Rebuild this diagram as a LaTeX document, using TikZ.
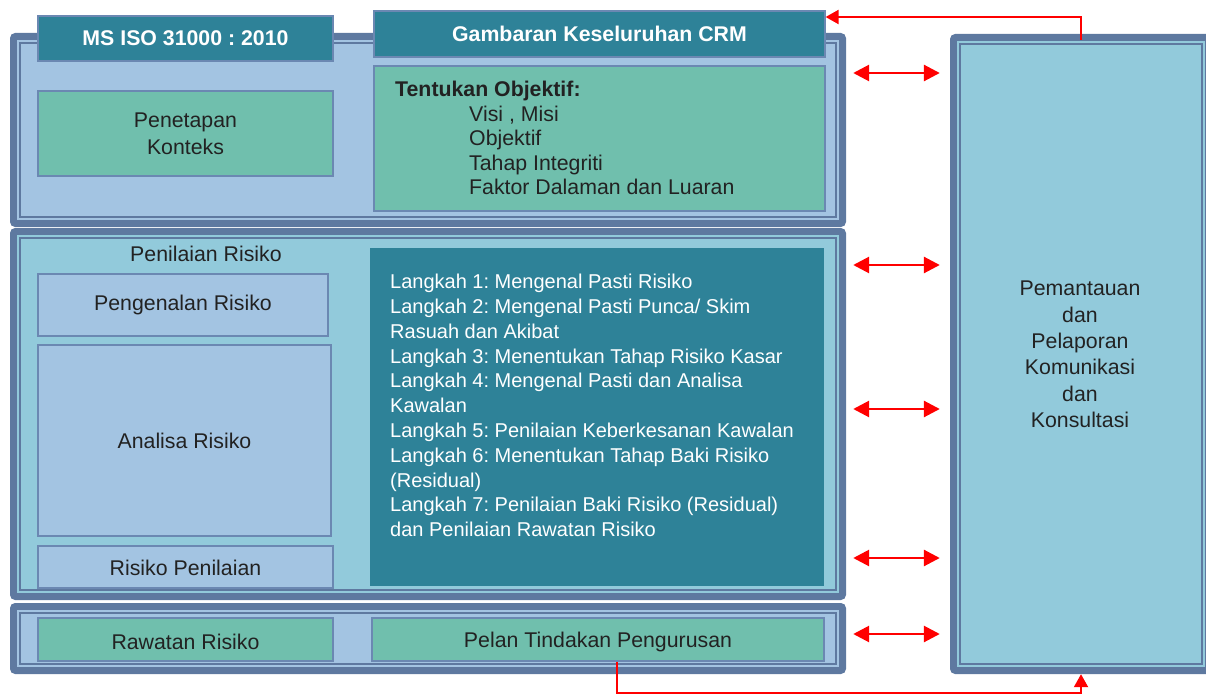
\documentclass[tikz,border=0pt]{standalone}
\usepackage{fontspec}
\setmainfont{Liberation Sans}
\usetikzlibrary{arrows.meta}
\definecolor{framec}{HTML}{5E79A0}
\definecolor{lblue}{HTML}{A3C4E2}
\definecolor{cyanp}{HTML}{92CADB}
\definecolor{greenb}{HTML}{70BFAD}
\definecolor{tealb}{HTML}{2E8298}
\definecolor{boxline}{HTML}{6B88B2}
\definecolor{txt}{HTML}{222222}
\newcommand\pframe[2]{%
  \fill[#2] ([shift={(7,7)}]#1.north west) rectangle ([shift={(-7,-7)}]#1.south east);
  \draw[framec, line width=1.6pt] ([shift={(10,10)}]#1.north west) rectangle ([shift={(-10,-10)}]#1.south east);
}
\frenchspacing
\begin{document}
\begin{tikzpicture}[x=1pt,y=-1pt,
  outerframe/.style={fill=framec, rounded corners=5pt, inner sep=0pt},
  box/.style={draw=boxline, line width=1.2pt, inner sep=0pt, text=txt, align=center,
    font=\fontsize{21.3}{27}\selectfont},
  greenbox/.style={box, fill=greenb},
  bluebox/.style={box, fill=lblue},
  titlebox/.style={box, fill=tealb, text=white, font=\fontsize{21.3}{25}\selectfont\bfseries},
  dbl/.style={red, line width=2.8pt, {Triangle[length=16pt,width=16pt]}-{Triangle[length=16pt,width=16pt]}},
  redline/.style={red, line width=2pt, -{Triangle[length=13pt,width=14pt]}}
]
\useasboundingbox (0,0) rectangle (1206,695);

% outer frames
\node[outerframe, minimum width=836pt, minimum height=194pt] (tpo) at (428,130) {};
\node[outerframe, minimum width=836pt, minimum height=372pt] (mpo) at (428,414) {};
\node[outerframe, minimum width=836pt, minimum height=71pt] (bpo) at (428,638.5) {};
\node[outerframe, minimum width=262pt, minimum height=640pt] (rpo) at (1081,354) {};
\pframe{tpo}{lblue}
\pframe{mpo}{cyanp}
\pframe{bpo}{lblue}
\pframe{rpo}{cyanp}

% right panel text
\node[text=txt, align=center, font=\fontsize{21.3}{26.3}\selectfont] (rptext) at (1080,354.5)
  {Pemantauan\\dan\\Pelaporan\\Komunikasi\\dan\\Konsultasi};

% title boxes
\node[titlebox, minimum width=295pt, minimum height=45pt] (ms) at (185.5,38.5) {MS ISO 31000 : 2010};
\node[titlebox, minimum width=451pt, minimum height=46pt] (gam) at (599.5,34) {Gambaran Keseluruhan CRM};

% top panel content
\node[greenbox, minimum width=295pt, minimum height=85pt] (pk) at (185.5,133.5) {Penetapan\\Konteks};
\node[greenbox, minimum width=451pt, minimum height=145pt] (obj) at (599.5,138.5) {};
\node[anchor=north west, inner sep=0pt, text=txt, align=left,
  font=\fontsize{21.3}{24.5}\selectfont] (objtext) at (395,81)
  {\textbf{Tentukan Objektif:}\\
   \hspace*{74pt}Visi , Misi\\
   \hspace*{74pt}Objektif\\
   \hspace*{74pt}Tahap Integriti\\
   \hspace*{74pt}Faktor Dalaman dan Luaran};

% middle panel content
\node[text=txt, font=\fontsize{21.3}{25}\selectfont] (penlabel) at (206,253.5) {Penilaian Risiko};
\node[bluebox, minimum width=290pt, minimum height=62pt] (pr) at (183,305) {Pengenalan Risiko};
\node[bluebox, minimum width=293pt, minimum height=191pt] (ar) at (184.5,440.5) {Analisa Risiko};
\node[bluebox, minimum width=295pt, minimum height=42pt] (rpn) at (185.5,567) {};
\node[text=txt, font=\fontsize{21.3}{25}\selectfont] at (185.5,567.5) {Risiko Penilaian};
\node[fill=tealb, inner sep=0pt, minimum width=454pt, minimum height=338pt] (lk) at (597,417) {};
\node[anchor=north west, inner sep=0pt, text=white, align=left,
  font=\fontsize{20}{24.8}\selectfont] (lktext) at (390,274)
  {Langkah 1: Mengenal Pasti Risiko\\
   Langkah 2: Mengenal Pasti Punca/ Skim\\
   Rasuah dan Akibat\\
   Langkah 3: Menentukan Tahap Risiko Kasar\\
   Langkah 4: Mengenal Pasti dan Analisa\\
   Kawalan\\
   Langkah 5: Penilaian Keberkesanan Kawalan\\
   Langkah 6: Menentukan Tahap Baki Risiko\\
   (Residual)\\
   Langkah 7: Penilaian Baki Risiko (Residual)\\
   dan Penilaian Rawatan Risiko};

% bottom panel content
\node[greenbox, minimum width=295pt, minimum height=43pt] (rr) at (185.5,639.5) {};
\node[text=txt, font=\fontsize{21.3}{25}\selectfont] at (185.5,641.5) {Rawatan Risiko};
\node[greenbox, minimum width=452pt, minimum height=43pt] (pel) at (598,639.5) {};
\node[text=txt, font=\fontsize{21.3}{25}\selectfont] at (598,641.5) {Pelan Tindakan Pengurusan};

% double arrows
\foreach \yy in {73,265,409,558,634}{
  \draw[dbl] ([xshift=7pt]tpo.east |- 0,\yy) -- ([xshift=-10pt]rpo.west |- 0,\yy);
}

% red connectors
\draw[redline] ([yshift=-6pt]rpo.north) |- ([yshift=17pt]gam.east);
\draw[redline] ([xshift=19pt]pel.south) -- ++(0,31) -| (rpo.south);
\end{tikzpicture}
\end{document}
